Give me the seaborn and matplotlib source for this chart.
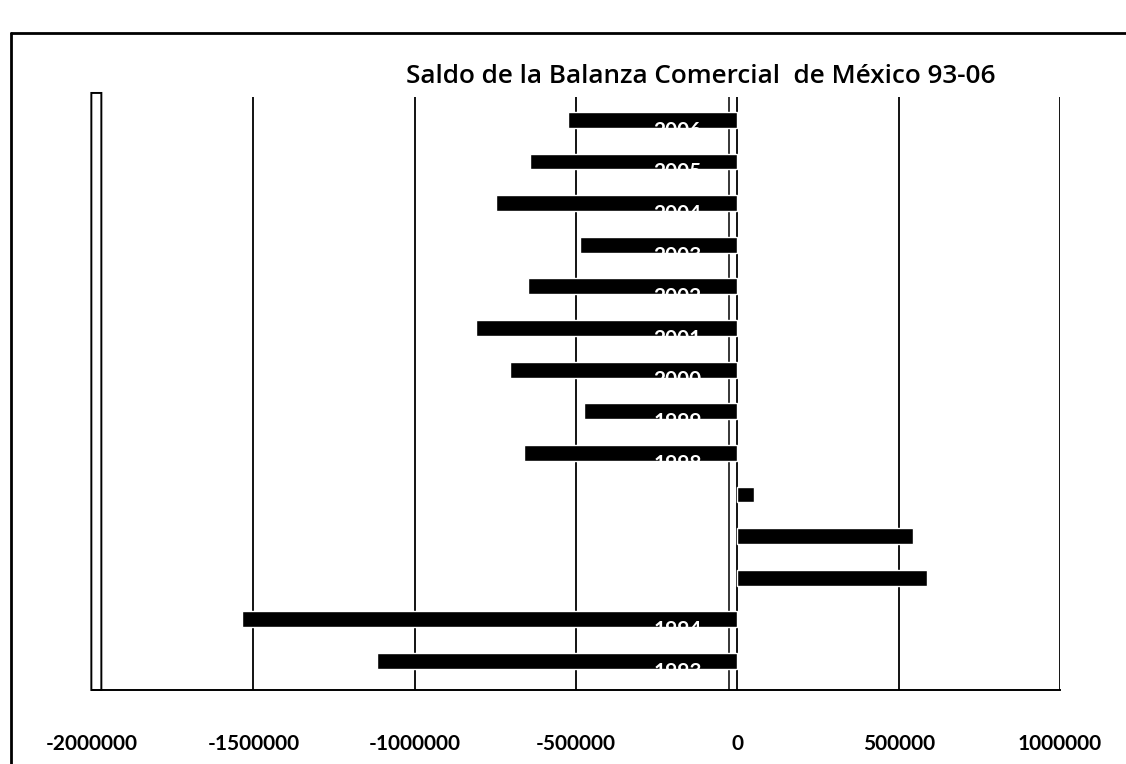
import matplotlib
matplotlib.use("Agg")
import matplotlib.pyplot as plt
from matplotlib.lines import Line2D
from matplotlib.patches import FancyBboxPatch
import seaborn as sns
import pandas as pd

# Trade balance of Mexico, 1993-2006
years = ["1993", "1994", "1995", "1996", "1997", "1998", "1999",
         "2000", "2001", "2002", "2003", "2004", "2005", "2006"]
saldo = [-1116000, -1535000, 589000, 543000, 53000, -660000, -474000,
         -704000, -809000, -648000, -487000, -747000, -642000, -524000]
x_ticks = [-2000000, -1500000, -1000000, -500000, 0, 500000, 1000000]
title = "Saldo de la Balanza Comercial  de México 93-06"

sns.set_theme(style="white")
plt.rcParams["font.family"] = ["Lato", "DejaVu Sans"]

df = pd.DataFrame({"anio": years, "saldo": saldo})
order = years[::-1]

fig = plt.figure(figsize=(11.26, 7.64), dpi=100)
ax = fig.add_axes([0.0817, 0.0969, 0.8597, 0.776])

sns.barplot(data=df, x="saldo", y="anio", order=order, orient="h",
            color="black", width=0.38, saturation=1, ax=ax, zorder=3)

ax.set_xlim(x_ticks[0], x_ticks[-1])
ax.set_ylim(13.7, -0.55)
ax.set_xticks(x_ticks)
ax.set_xticklabels([str(t) for t in x_ticks], fontsize=15, fontweight="bold")
ax.tick_params(axis="x", length=0, pad=32, colors="black")
ax.set_yticks([])
ax.set_xlabel("")
ax.set_ylabel("")

# vertical gridlines of the back wall
for t in x_ticks[1:]:
    ax.axvline(t, color="black", lw=1.3, zorder=1)
ax.axvline(-25000, color="black", lw=1.1, zorder=1)

# thin side wall on the left
wall = FancyBboxPatch((x_ticks[0] - 2000, 0.0), 31000, 1.007,
                      boxstyle="round,pad=0,rounding_size=0.01",
                      transform=ax.get_xaxis_transform(),
                      facecolor="white", edgecolor="black", lw=1.4,
                      clip_on=False, zorder=2)
ax.add_patch(wall)

for side in ["top", "right", "left"]:
    ax.spines[side].set_visible(False)
ax.spines["bottom"].set_color("black")
ax.spines["bottom"].set_linewidth(1.4)

# category labels sitting on the bars
for yr, pos in zip(order, range(len(order))):
    ax.text(-110000, pos + 0.02, yr, color="white", fontsize=15,
            fontweight="bold", ha="right", va="top", zorder=4)

fig.text(0.622, 0.900, title, ha="center", va="center", color="black",
         fontsize=18.8, fontweight="semibold", family=["Open Sans", "Lato"])

# outer chart frame
fig.add_artist(Line2D([0.0098, 0.0098], [0.0, 0.957], color="black", lw=2.0))
fig.add_artist(Line2D([0.0098, 1.0], [0.957, 0.957], color="black", lw=2.0))

fig.savefig("out.png", dpi=100, facecolor="white")
